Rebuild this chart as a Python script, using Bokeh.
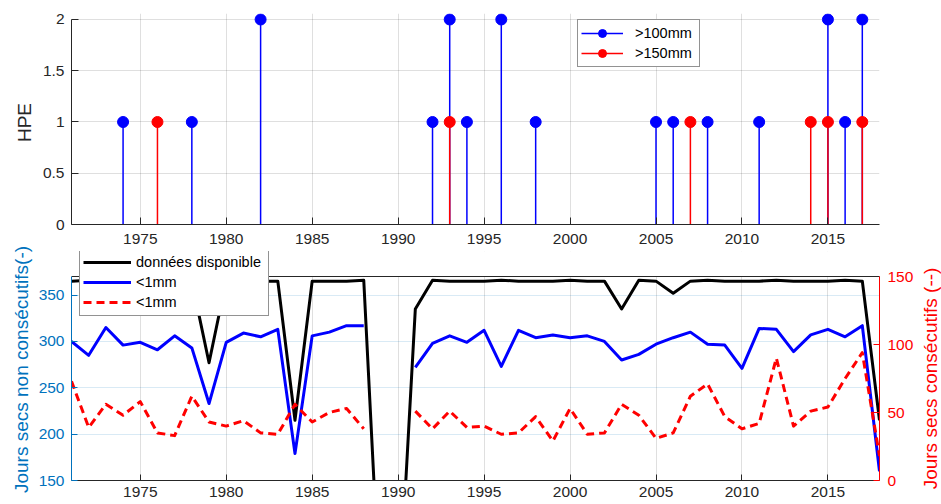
import math
from bokeh.plotting import figure
from bokeh.models import (Range1d, LinearAxis, FixedTicker, Legend, LegendItem,
                          Span, BoxAnnotation)
from bokeh.core.properties import value
from bokeh.layouts import column, row
from bokeh.embed import file_html
from bokeh.resources import INLINE

FONT = "Liberation Sans"
AX = "#262626"
LEFT_BLUE = "#0072BD"
RIGHT_RED = "#ff0000"
NAN = float("nan")

# Heavy precipitation events (HPE) per year
hpe100_years = [1974, 1978, 1982, 1992, 1993, 1994, 1996, 1998, 2005, 2006, 2008, 2011, 2015, 2016, 2017]
hpe100_count = [1, 1, 2, 1, 2, 1, 2, 1, 1, 1, 1, 1, 2, 1, 2]
hpe150_years = [1976, 1993, 2007, 2014, 2015, 2017]
hpe150_count = [1, 1, 1, 1, 1, 1]

# Yearly dry-day statistics
years = list(range(1971, 2019))
jours_disponibles = [365, 366, 365, 365, 365, 366, 365, 365, 277, 366,
                     365, 365, 365, 215, 365, 365, 365, 366, 0, 0,
                     335, 366, 365, 365, 365, 366, 365, 365, 365, 366,
                     365, 365, 335, 366, 365, 352, 365, 366, 365, 365,
                     365, 366, 365, 365, 365, 366, 365, 215]
secs_non_consecutifs = [300, 285, 315, 296, 299, 291, 306, 293, 233, 299,
                        309, 305, 313, 179, 306, 310, 317, 317, NAN, NAN,
                        272, 298, 306, 299, 312, 273, 312, 304, 307, 304,
                        306, 300, 280, 286, 297, 304, 310, 297, 296, 271,
                        314, 313, 289, 307, 313, 305, 317, 160]
secs_consecutifs = [73, 39, 56, 48, 58, 35, 33, 62, 43, 40,
                    44, 35, 34, 56, 43, 50, 53, 38, NAN, NAN,
                    51, 38, 51, 39, 40, 34, 35, 47, 29, 53,
                    34, 35, 56, 48, 31, 35, 62, 71, 47, 38,
                    42, 90, 40, 51, 54, 75, 94, 18]

x_ticks = list(range(1975, 2016, 5))
left_lim = (150, 370)
right_lim = (0, 150)

W, H = 941, 504
H_TOP, H_BOT = 251, 253
STRIP_L, STRIP_R = 35, 22
PLOT_W = W - STRIP_L - STRIP_R


def style_axis(ax, color, tick_in):
    ax.axis_line_color = color
    ax.major_tick_line_color = color
    ax.major_tick_in = tick_in
    ax.major_tick_out = 0
    ax.minor_tick_line_color = None
    ax.major_label_text_font = FONT
    ax.major_label_text_font_size = "15.5px"
    ax.major_label_text_color = color


def style_legend(leg, glyph_w, standoff, label_w):
    leg.border_line_color = AX
    leg.border_line_width = 1
    leg.background_fill_color = "white"
    leg.background_fill_alpha = 1
    leg.label_text_font = FONT
    leg.label_text_font_size = "14.5px"
    leg.label_text_color = "black"
    leg.glyph_width = glyph_w
    leg.glyph_height = 20
    leg.label_height = 20
    leg.label_width = label_w
    leg.label_standoff = standoff
    leg.padding = 3
    leg.spacing = 0
    leg.margin = 0


def title_strip(width, titles):
    # narrow full-height canvas holding rotated axis titles: (x, y from top, text, colour)
    s = figure(width=width, height=H, x_range=Range1d(0, width), y_range=Range1d(H, 0),
               output_backend="svg", toolbar_location=None,
               x_axis_location=None, y_axis_location=None,
               min_border_left=0, min_border_right=0, min_border_top=0, min_border_bottom=0)
    s.outline_line_color = None
    s.grid.visible = False
    for x, y, text, color in titles:
        s.text(x=[x], y=[y], text=[text], angle=math.pi / 2,
               text_align="center", text_baseline="middle",
               text_font=value(FONT), text_font_size="19px", text_color=color)
    return s


# ---- Top panel: stem plot of HPE counts ----
top = figure(width=PLOT_W, height=H_TOP, x_range=Range1d(1971, 2018), y_range=Range1d(0, 2.0585),
             output_backend="svg", toolbar_location=None,
             min_border_left=70 - STRIP_L, min_border_right=62 - STRIP_R,
             min_border_top=13, min_border_bottom=27)
top.outline_line_color = None
top.background_fill_color = "white"

sb = top.segment(x0=hpe100_years, y0=[0] * len(hpe100_years), x1=hpe100_years, y1=hpe100_count,
                 line_color="#0000ff", line_width=1.5)
cb = top.scatter(hpe100_years, hpe100_count, size=11, fill_color="#0000ff", line_color="#0000ff")
sr = top.segment(x0=hpe150_years, y0=[0] * len(hpe150_years), x1=hpe150_years, y1=hpe150_count,
                 line_color="#ff0000", line_width=1.5)
cr = top.scatter(hpe150_years, hpe150_count, size=11, fill_color="#ff0000", line_color="#ff0000")

txa = top.xaxis[0]
txa.ticker = FixedTicker(ticks=x_ticks)
style_axis(txa, AX, 7)
txa.major_label_standoff = 9
tya = top.yaxis[0]
tya.ticker = FixedTicker(ticks=[0, 0.5, 1, 1.5, 2])
tya.major_label_overrides = {0: "0", 0.5: "0.5", 1: "1", 1.5: "1.5", 2: "2"}
tya.bounds = (0, 2)
style_axis(tya, AX, 7)
tya.major_label_standoff = 7
for g in (top.xgrid[0], top.ygrid[0]):
    g.grid_line_color = AX
    g.grid_line_alpha = 0.15

leg_top = Legend(items=[LegendItem(label=">100mm", renderers=[sb, cb]),
                        LegendItem(label=">150mm", renderers=[sr, cr])],
                 location=(506, 157))
style_legend(leg_top, 42, 12, 61)
top.add_layout(leg_top)

# ---- Bottom panel: dry days, two y axes ----
# The frame reaches a little above the axes box so that the legend can overhang it;
# the extra band is blanked out and the box top is drawn at the left-axis limit.
FRAME_H, BOX_H = 229, 204
left_top = left_lim[0] + (left_lim[1] - left_lim[0]) * FRAME_H / BOX_H
right_top = right_lim[0] + (right_lim[1] - right_lim[0]) * FRAME_H / BOX_H

bot = figure(width=PLOT_W, height=H_BOT, x_range=Range1d(1971, 2018),
             y_range=Range1d(left_lim[0], left_top),
             output_backend="svg", toolbar_location=None,
             min_border_left=70 - STRIP_L, min_border_right=62 - STRIP_R,
             min_border_top=0, min_border_bottom=24)
bot.extra_y_ranges = {"consec": Range1d(right_lim[0], right_top)}
bot.outline_line_color = None
bot.background_fill_color = "white"

r_dispo = bot.line(years, jours_disponibles, line_color="black", line_width=3, line_join="round")
r_nc = bot.line(years, secs_non_consecutifs, line_color="#0000ff", line_width=3, line_join="round")
r_c = bot.line(years, secs_consecutifs, y_range_name="consec", line_color="#ff0000",
               line_width=3, line_dash="8 5", line_join="round")

bxa = bot.xaxis[0]
bxa.ticker = FixedTicker(ticks=x_ticks)
style_axis(bxa, AX, 6)
bxa.major_label_standoff = 6

bya = bot.left[0]
bya.ticker = FixedTicker(ticks=[150, 200, 250, 300, 350])
bya.bounds = left_lim
style_axis(bya, LEFT_BLUE, 6)
bya.major_label_standoff = 7

rya = LinearAxis(y_range_name="consec", ticker=FixedTicker(ticks=[0, 50, 100, 150]),
                 bounds=right_lim)
style_axis(rya, RIGHT_RED, 6)
rya.major_label_standoff = 8
bot.add_layout(rya, "right")

bot.xgrid[0].grid_line_color = AX
bot.xgrid[0].grid_line_alpha = 0.15
bot.ygrid[0].grid_line_color = LEFT_BLUE
bot.ygrid[0].grid_line_alpha = 0.15

bot.add_layout(BoxAnnotation(bottom=left_lim[1], fill_color="white", fill_alpha=1,
                             line_color=None, level="underlay"))
bot.add_layout(Span(location=left_lim[1], dimension="width", line_color=AX, line_width=1))

leg_bot = Legend(items=[LegendItem(label="données disponible", renderers=[r_dispo]),
                        LegendItem(label="<1mm", renderers=[r_nc]),
                        LegendItem(label="<1mm", renderers=[r_c])],
                 location=(8, 164))
style_legend(leg_bot, 48, 5, 129)
bot.add_layout(leg_bot)

left_strip = title_strip(STRIP_L, [(24, 122, "HPE", AX),
                                   (21, 369, "Jours secs non consécutifs(-)", LEFT_BLUE)])
right_strip = title_strip(STRIP_R, [(11, 378, "Jours secs consécutifs (--)", RIGHT_RED)])

layout = row(left_strip, column(top, bot, spacing=0), right_strip, spacing=0)
open("out.html", "w").write(file_html(layout, INLINE))
